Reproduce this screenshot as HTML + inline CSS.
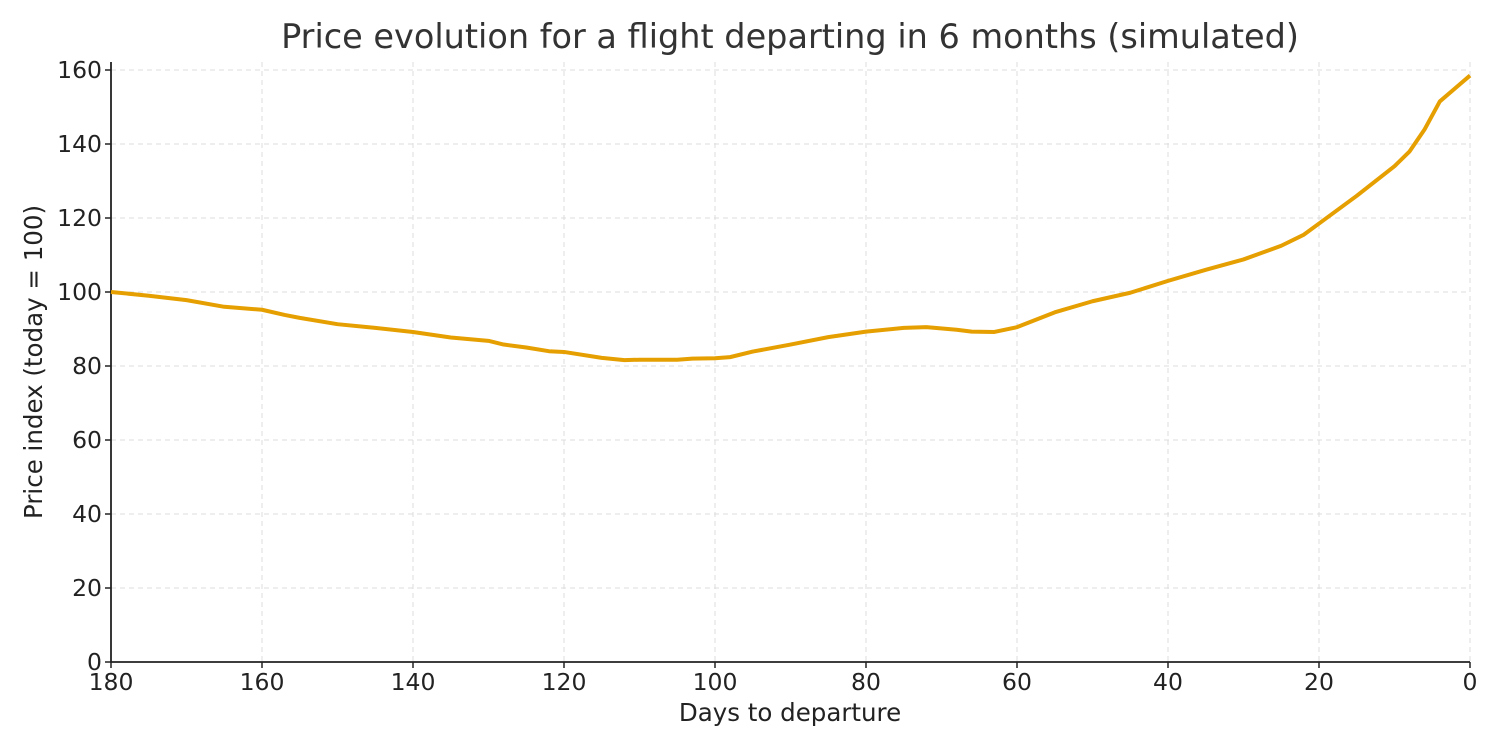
<!DOCTYPE html>
<html><head><meta charset="utf-8"><style>
body{margin:0;background:#fff;}
svg{display:block;font-family:"DejaVu Sans","Liberation Sans",sans-serif;}
</style></head><body>
<svg id="chart" width="1500" height="750">
<text x="790" y="48" text-anchor="middle" font-size="33.5" fill="#333">Price evolution for a flight departing in 6 months (simulated)</text>
<g id="grid"></g><g id="axes"></g><g id="series"></g>
<text x="790" y="721" text-anchor="middle" font-size="24.5" fill="#222">Days to departure</text>
<text transform="translate(42,362) rotate(-90)" text-anchor="middle" font-size="24.5" fill="#222">Price index (today = 100)</text>
</svg>
<script>
const days = [180,175,170,165,160,157,155,150,145,140,135,130,128,125,122,120,115,112,110,105,103,100,98,95,90,85,80,75,72,68,66,63,60,55,50,45,40,35,30,25,22,20,15,10,8,6,4,2,0];
const prices = [100,99,97.8,96,95.2,93.8,93,91.3,90.3,89.2,87.7,86.8,85.8,85,84,83.8,82.2,81.6,81.7,81.7,82,82.1,82.4,83.9,85.8,87.8,89.3,90.3,90.5,89.8,89.3,89.2,90.5,94.5,97.5,99.8,103,106,108.8,112.5,115.5,118.5,126,134,138,144,151.5,155,158.5];
const xTicks = [180,160,140,120,100,80,60,40,20,0];
const yTicks = [0,20,40,60,80,100,120,140,160];
const NS="http://www.w3.org/2000/svg";
const X0=111,X1=1470,Y0=662,Y1=70;
const xs=d=>X0+(180-d)/180*(X1-X0);
const ys=v=>Y0-v/160*(Y0-Y1);
function mk(tag,attrs,parent){const e=document.createElementNS(NS,tag);for(const k in attrs)e.setAttribute(k,attrs[k]);parent.appendChild(e);return e;}
const grid=document.getElementById('grid'),axes=document.getElementById('axes'),series=document.getElementById('series');
xTicks.forEach(t=>{
  const x=xs(t);
  if(t!==180){const g=mk('line',{x1:x,x2:x,y1:62,y2:Y0,stroke:'#dcdcdc','stroke-dasharray':'5,4'},grid);
  
  }
  mk('line',{x1:x,x2:x,y1:Y0,y2:Y0+6,stroke:'#222','stroke-width':1.5},axes);
  const l=mk('text',{x:x,y:Y0+28,'text-anchor':'middle','font-size':23.5,fill:'#222'},axes);l.textContent=t;
  
  
});
yTicks.forEach(t=>{
  const y=ys(t);
  if(t!==0){const g=mk('line',{x1:X0,x2:X1,y1:y,y2:y,stroke:'#dcdcdc','stroke-dasharray':'5,4'},grid);
  
  }
  mk('line',{x1:X0-6,x2:X0,y1:y,y2:y,stroke:'#222','stroke-width':1.5},axes);
  const l=mk('text',{x:X0-9,y:y+8,'text-anchor':'end','font-size':23.5,fill:'#222'},axes);l.textContent=t;
  
  
});
const ax=mk('path',{d:`M${X0},62V${Y0}H${X1}`,fill:'none',stroke:'#222','stroke-width':1.8},axes);


const line=mk('path',{d:days.map((d,i)=>(i?'L':'M')+xs(d)+','+ys(prices[i])).join(''),fill:'none',stroke:'#E69F00','stroke-width':4,'stroke-linejoin':'round'},series);


</script>
</body></html>
